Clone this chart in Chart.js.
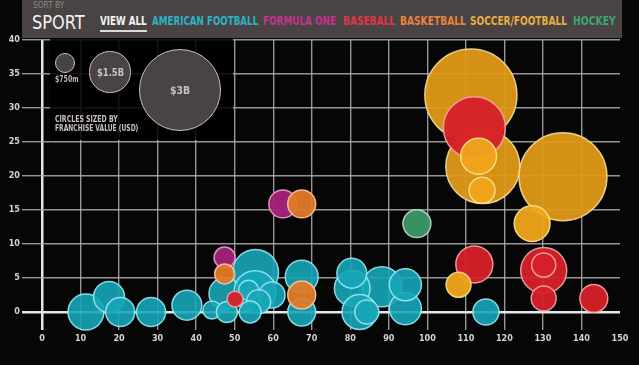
<!DOCTYPE html>
<html>
<head>
<meta charset="utf-8">
<script src="https://cdn.jsdelivr.net/npm/chart.js@4"></script>
<style>
  html, body { margin: 0; padding: 0; background: #060606; }
  #wrap { position: relative; width: 639px; height: 365px; overflow: hidden; }
  #chart { position: absolute; left: 0; top: 0; }
  .lbl { position: absolute; white-space: nowrap; transform-origin: 0 0;
         font-family: "DejaVu Sans Condensed", "Liberation Sans Narrow", sans-serif; }
  #header { position: absolute; left: 22px; top: 0; width: 600px; height: 38px; background: #4a4343; }
  #keybox { position: absolute; left: 50px; top: 38px; width: 183px; height: 102px; background: rgba(0,0,0,0.85); }
  .key { position: absolute; border-radius: 50%; background: #4a4343; border: 1.5px solid #c9c1c1; box-sizing: border-box; }
</style>
</head>
<body>
<div id="wrap">
  <canvas id="chart" width="639" height="365"></canvas>
  <div id="keybox"></div>
  <div id="header"></div>
</div>
<script>
// x / y positions and franchise value (USD billions) per sport
const footballX = [11.4, 17.4, 20.3, 28.3, 37.6, 55.4, 47.5, 55.3, 59.7, 53.6, 56.2, 44.1, 48.0, 54.0, 67.4, 67.4, 88.2, 80.5, 80.4, 94.3, 94.3, 82.4, 84.3, 115.2];
const footballY = [0, 2.2, 0, 0, 1.0, 5.8, 2.7, 3.0, 2.5, 3.2, 1.5, 0.3, 0, 0, 5.2, 0, 3.7, 3.5, 5.7, 0.5, 4.0, 0, 0, 0];
const footballValue = [1.31, 1.13, 1.06, 1.06, 1.09, 1.68, 1.17, 1.53, 0.95, 0.73, 0.88, 0.66, 0.77, 0.8, 1.2, 1.02, 1.46, 1.3, 1.09, 1.17, 1.17, 1.28, 0.88, 0.95];

const formulaOneX = [62.5, 47.4];
const formulaOneY = [15.9, 8.0];
const formulaOneValue = [1.02, 0.77];

const basketballX = [67.4, 47.4, 67.4];
const basketballY = [15.9, 5.6, 2.5];
const basketballValue = [1.02, 0.73, 1.02];

const baseballX = [112.2, 112.2, 130.2, 130.2, 130.2, 143.2, 50.1];
const baseballY = [27.1, 7.0, 6.1, 6.9, 2.0, 2.0, 1.9];
const baseballValue = [2.26, 1.35, 1.68, 0.88, 0.91, 1.02, 0.58];

const soccerX = [111.3, 114.4, 135.2, 127.2, 108.1, 113.3, 114.2];
const soccerY = [31.9, 21.4, 19.9, 13.0, 4.0, 22.9, 17.9];
const soccerValue = [3.36, 2.70, 3.21, 1.31, 0.91, 1.31, 0.95];

const hockeyX = [97.3];
const hockeyY = [13.0];
const hockeyValue = [1.02];

const sports = ["AMERICAN FOOTBALL", "FORMULA ONE", "BASEBALL", "BASKETBALL", "SOCCER/FOOTBALL", "HOCKEY"];
const keyValues = [0.75, 1.5, 3];
const keyLabels = ["$750m", "$1.5B", "$3B"];
const xTicks = [0, 10, 20, 30, 40, 50, 60, 70, 80, 90, 100, 110, 120, 130, 140, 150];
const yTicks = [0, 5, 10, 15, 20, 25, 30, 35, 40];

const PX_PER_BILLION = 13.7;

function points(xs, ys, vals, keep) {
  const out = [];
  xs.forEach((x, i) => {
    if (!keep || keep(vals[i])) out.push({ x: x, y: ys[i], r: vals[i] * PX_PER_BILLION });
  });
  return out;
}

function bubbles(label, data, fill, stroke, order) {
  return { label: label, data: data, backgroundColor: fill, borderColor: stroke,
           borderWidth: 1.5, clip: false, order: order };
}

const grey = "rgba(175,175,175,0.85)";
const axisLine = "#e6e6e6";

new Chart(document.getElementById("chart"), {
  type: "bubble",
  data: {
    datasets: [
      bubbles("Soccer", points(soccerX, soccerY, soccerValue, v => v >= 1.5), "rgba(222,154,22,0.95)", "rgba(245,220,150,0.9)", 7),
      bubbles("American football", points(footballX, footballY, footballValue), "rgba(22,166,184,0.9)", "rgba(150,232,240,0.9)", 6),
      bubbles("Formula One", points(formulaOneX, formulaOneY, formulaOneValue), "rgba(165,34,122,0.95)", "rgba(235,160,205,0.9)", 5),
      bubbles("Basketball", points(basketballX, basketballY, basketballValue), "rgba(226,122,40,0.95)", "rgba(248,200,160,0.9)", 4),
      bubbles("Baseball", points(baseballX, baseballY, baseballValue), "rgba(214,32,40,0.95)", "rgba(242,165,165,0.9)", 3),
      bubbles("Soccer", points(soccerX, soccerY, soccerValue, v => v < 1.5), "rgba(240,165,26,0.95)", "rgba(250,225,140,0.9)", 2),
      bubbles("Hockey", points(hockeyX, hockeyY, hockeyValue), "rgba(60,152,106,0.95)", "rgba(185,225,200,0.9)", 1)
    ]
  },
  options: {
    responsive: false,
    animation: false,
    layout: { autoPadding: false, padding: { top: 40, right: 19, left: 0, bottom: 0 } },
    plugins: { legend: { display: false }, tooltip: { enabled: false } },
    scales: {
      x: {
        type: "linear", min: 0, max: 150,
        afterFit: s => { s.height = 53; },
        afterBuildTicks: s => { s.ticks = xTicks.map(v => ({ value: v })); },
        border: { display: false },
        grid: {
          tickLength: 18, lineWidth: c => (c.tick && c.tick.value === 0 ? 2.5 : 1.4),
          color: c => (c.tick && c.tick.value === 0 ? axisLine : (c.tick && c.tick.value === 150 ? "rgba(0,0,0,0)" : grey))
        },
        ticks: { autoSkip: false, maxRotation: 0, padding: 3, color: "#d4d4d4",
                 font: { family: "DejaVu Sans Condensed", size: 9, weight: "bold" } }
      },
      y: {
        type: "linear", min: 0, max: 40,
        afterFit: s => { s.width = 42; },
        afterBuildTicks: s => { s.ticks = yTicks.map(v => ({ value: v })); },
        border: { display: false },
        grid: {
          tickLength: 20, lineWidth: c => (c.tick && c.tick.value === 0 ? 2.5 : 1.4),
          color: c => (c.tick && c.tick.value === 0 ? axisLine : grey)
        },
        ticks: { padding: 2, color: "#d4d4d4",
                 font: { family: "DejaVu Sans Condensed", size: 9, weight: "bold" } }
      }
    }
  }
});

// header bar with sport filters
const header = document.getElementById("header");
function addText(parent, text, left, top, size, color, width, weight) {
  const d = document.createElement("div");
  d.className = "lbl";
  d.textContent = text;
  d.style.left = left + "px";
  d.style.top = top + "px";
  d.style.fontSize = size + "px";
  d.style.color = color;
  d.style.fontWeight = weight || "bold";
  parent.appendChild(d);
  if (width) d.style.transform = "scaleX(" + (width / d.scrollWidth) + ")";
  return d;
}
addText(header, "SORT BY", 11, 1, 8, "#8f8686", 31, "normal");
addText(header, "SPORT", 10, 11, 19, "#f2f2f2", 53, "normal");
addText(header, "VIEW ALL", 78, 14, 12, "#f4f4f4", 47);
const bar = document.createElement("div");
bar.style.cssText = "position:absolute;left:78px;top:30px;width:47px;height:2px;background:#dcdcdc";
header.appendChild(bar);

const sportColors = ["#2ab3c4", "#c2338f", "#e0344e", "#e8823f", "#e8ad45", "#3fa571"];
const sportLeft = [130, 241, 321, 378, 448, 551];
const sportWidth = [106, 73, 52, 66, 97, 43];
sports.forEach((s, i) => addText(header, s, sportLeft[i], 14, 12, sportColors[i], sportWidth[i]));

// size key
const box = document.getElementById("keybox");
const keyCentres = [[15, 25], [60, 34], [130, 52]];
keyValues.forEach((v, i) => {
  const r = v * PX_PER_BILLION;
  const c = document.createElement("div");
  c.className = "key";
  c.style.left = (keyCentres[i][0] - r) + "px";
  c.style.top = (keyCentres[i][1] - r) + "px";
  c.style.width = (2 * r) + "px";
  c.style.height = (2 * r) + "px";
  box.appendChild(c);
});
addText(box, keyLabels[0], 5, 37, 8, "#bdb5b5", 24);
addText(box, keyLabels[1], 47, 29, 10, "#c9c1c1", 27);
addText(box, keyLabels[2], 120, 46, 11, "#c9c1c1", 20);
addText(box, "CIRCLES SIZED BY", 5, 77, 8, "#c9c1c1", 63);
addText(box, "FRANCHISE VALUE (USD)", 5, 86, 8, "#c9c1c1", 83);
</script>
</body>
</html>
